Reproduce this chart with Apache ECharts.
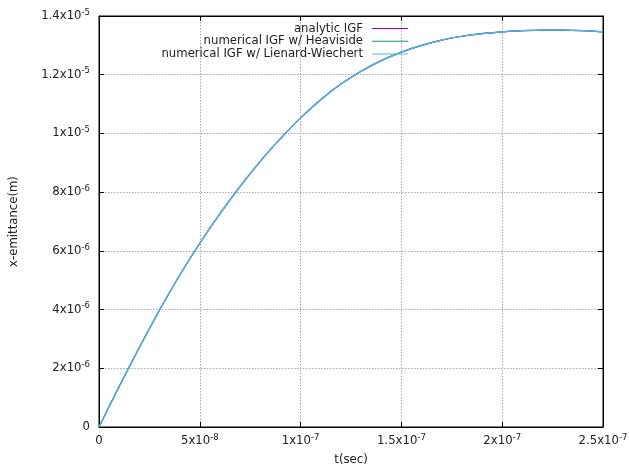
<!DOCTYPE html>
<html>
<head>
<meta charset="utf-8">
<script src="https://cdn.jsdelivr.net/npm/echarts@6/dist/echarts.min.js"></script>
<style>html,body{margin:0;padding:0;background:#fff}#c{width:629px;height:466px}</style>
</head>
<body>
<div id="c"></div>
<script>
// time (s) in units of 1e-8 s
var tValues = [0,1,2,3,4,5,6,7,8,9,10,11,12,13,14,15,16,17,18,19,20,21,22,23,24,25];
// x-emittance (m) in units of 1e-6 m
var analyticIGF = [0,1.38,2.71,3.98,5.17,6.26,7.27,8.20,9.05,9.82,10.53,11.15,11.68,12.12,12.48,12.77,13.00,13.18,13.31,13.40,13.46,13.50,13.52,13.52,13.50,13.46];
var heavisideIGF = [0,1.38,2.71,3.98,5.17,6.26,7.27,8.20,9.05,9.82,10.53,11.15,11.68,12.12,12.48,12.77,13.00,13.18,13.31,13.40,13.46,13.50,13.52,13.52,13.50,13.46];
var lienardIGF = [0,1.38,2.71,3.98,5.17,6.26,7.27,8.20,9.05,9.82,10.53,11.15,11.68,12.12,12.48,12.77,13.00,13.18,13.31,13.40,13.46,13.50,13.52,13.52,13.50,13.46];
var seriesNames = ['analytic IGF','numerical IGF w/ Heaviside','numerical IGF w/ Lienard-Wiechert'];
var seriesColors = ['#9400d3','#009e73','#56b4e9'];
var xTickLabels = [['0',''],['5x10','-8'],['1x10','-7'],['1.5x10','-7'],['2x10','-7'],['2.5x10','-7']];
var yTickLabels = [['0',''],['2x10','-6'],['4x10','-6'],['6x10','-6'],['8x10','-6'],['1x10','-5'],['1.2x10','-5'],['1.4x10','-5']];

var FONT = 'DejaVu Sans';
var rich = {
  m: {fontFamily: FONT, fontSize: 11.7, color: '#222', lineHeight: 18},
  s: {fontFamily: FONT, fontSize: 8.5, color: '#222', lineHeight: 11, padding: [0,0,7,0]}
};
function fmt(labels, step) {
  return function (v) {
    var i = Math.round(v / step);
    var l = labels[i];
    if (!l) return '';
    return '{m|' + l[0] + '}' + (l[1] ? '{s|' + l[1] + '}' : '');
  };
}
function pairs(vals) {
  return tValues.map(function (t, i) { return [t * 1e-8, vals[i] * 1e-6]; });
}
var chart = echarts.init(document.getElementById('c'), null, {renderer: 'canvas'});
var gridLine = {show: true, lineStyle: {color: '#a8a8a8', width: 1, type: [1.5, 1.5]}};
var allData = [analyticIGF, heavisideIGF, lienardIGF];
var legends = seriesNames.map(function (n, i) {
  return {
    data: [n], right: 221, top: 22.5 + i * 12.7, align: 'right', orient: 'vertical',
    icon: 'rect', itemWidth: 36, itemHeight: 1, itemGap: 0, padding: 0,
    selectedMode: false,
    textStyle: {fontFamily: FONT, fontSize: 11.7, color: '#222', padding: [0, 4, 0, 0]}
  };
});
chart.setOption({
  animation: false,
  backgroundColor: '#fff',
  grid: {left: 99, right: 26, top: 16, bottom: 39, show: true, borderColor: '#000', borderWidth: 1, containLabel: false, outerBoundsMode: 'none'},
  legend: legends,
  xAxis: [{
    type: 'value', min: 0, max: 2.5e-7, interval: 5e-8, position: 'bottom',
    name: 't(sec)', nameLocation: 'middle', nameGap: 27,
    nameTextStyle: {fontFamily: FONT, fontSize: 11.7, color: '#222'},
    axisLine: {show: true, onZero: false, lineStyle: {color: '#000'}},
    axisTick: {show: true, inside: true, length: 5, lineStyle: {color: '#000'}},
    axisLabel: {margin: 5, formatter: fmt(xTickLabels, 5e-8), rich: rich},
    splitLine: gridLine
  }, {
    type: 'value', min: 0, max: 2.5e-7, interval: 5e-8, position: 'top',
    axisLine: {show: true, onZero: false, lineStyle: {color: '#000'}},
    axisTick: {show: true, inside: true, length: 5, lineStyle: {color: '#000'}},
    axisLabel: {show: false}, splitLine: {show: false}
  }],
  yAxis: [{
    type: 'value', min: 0, max: 1.4e-5, interval: 2e-6, position: 'left',
    name: 'x-emittance(m)', nameLocation: 'middle', nameGap: 79, nameRotate: 90,
    nameTextStyle: {fontFamily: FONT, fontSize: 11.7, color: '#222'},
    axisLine: {show: true, onZero: false, lineStyle: {color: '#000'}},
    axisTick: {show: true, inside: true, length: 5, lineStyle: {color: '#000'}},
    axisLabel: {margin: 9, formatter: fmt(yTickLabels, 2e-6), rich: rich},
    splitLine: gridLine
  }, {
    type: 'value', min: 0, max: 1.4e-5, interval: 2e-6, position: 'right',
    axisLine: {show: true, onZero: false, lineStyle: {color: '#000'}},
    axisTick: {show: true, inside: true, length: 5, lineStyle: {color: '#000'}},
    axisLabel: {show: false}, splitLine: {show: false}
  }],
  series: seriesNames.map(function (n, i) {
    return {
      name: n, type: 'line', data: pairs(allData[i]), smooth: 0.2,
      showSymbol: false, symbol: 'none', color: seriesColors[i],
      lineStyle: {width: 1.2, color: seriesColors[i]}, z: 2 + i
    };
  })
});
</script>
</body>
</html>
